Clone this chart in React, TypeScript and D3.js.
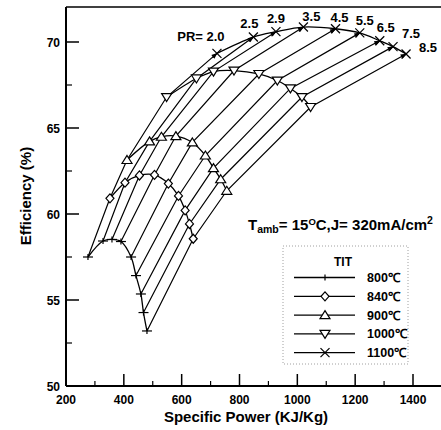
import React from "react";
import * as d3 from "d3";

// Pressure ratio of each constant-PR line (one point per TIT curve)
const prLabels = ["2.0", "2.5", "2.9", "3.5", "4.5", "5.5", "6.5", "7.5", "8.5"];
const titLabels = ["800\u2103", "840\u2103", "900\u2103", "1000\u2103", "1100\u2103"];

// Specific power (KJ/Kg) and efficiency (%) for each turbine inlet temperature
const power800 = [276, 328, 359, 390, 425, 442, 459, 468, 480];
const eff800 = [57.5, 58.43, 58.52, 58.4, 57.5, 56.42, 55.35, 54.27, 53.2];
const power840 = [352, 404, 454, 506, 554, 589, 612, 627, 640];
const eff840 = [60.91, 61.82, 62.24, 62.27, 61.77, 61.05, 60.21, 59.42, 58.56];
const power900 = [411, 489, 530, 580, 637, 682, 710, 735, 756];
const eff900 = [63.14, 64.22, 64.49, 64.53, 64.16, 63.4, 62.67, 62.02, 61.35];
const power1000 = [548, 651, 710, 781, 867, 931, 976, 1016, 1046];
const eff1000 = [66.8, 67.88, 68.28, 68.34, 68.14, 67.76, 67.3, 66.8, 66.22];
const power1100 = [722, 848, 926, 1021, 1132, 1216, 1285, 1331, 1376];
const eff1100 = [69.34, 70.29, 70.6, 70.87, 70.77, 70.53, 70.07, 69.73, 69.3];

const xTicks = [200, 400, 600, 800, 1000, 1200, 1400];
const xMinor = [300, 500, 700, 900, 1100, 1300];
const yTicks = [50, 55, 60, 65, 70];
const yMinor = [52.5, 57.5, 62.5, 67.5];

type Pt = [number, number];
const series: { name: string; marker: string; pts: Pt[] }[] = [
  { name: titLabels[0], marker: "plus", pts: power800.map((p, i) => [p, eff800[i]]) },
  { name: titLabels[1], marker: "diamond", pts: power840.map((p, i) => [p, eff840[i]]) },
  { name: titLabels[2], marker: "tri-up", pts: power900.map((p, i) => [p, eff900[i]]) },
  { name: titLabels[3], marker: "tri-down", pts: power1000.map((p, i) => [p, eff1000[i]]) },
  { name: titLabels[4], marker: "cross", pts: power1100.map((p, i) => [p, eff1100[i]]) },
];

// label placement of PR values relative to the 1100℃ points
const prLabelOffset: Pt[] = [
  [-16, -12], [-4, -9], [0, -9], [8, -6], [4, -7], [5, -8], [6, -9], [18, -9], [22, -2],
];

const FONT = "'Liberation Sans', Arial, Helvetica, sans-serif";

function Marker({ kind, x, y }: { kind: string; x: number; y: number }) {
  const s = { stroke: "#000", strokeWidth: 1.2, fill: "#fff" };
  switch (kind) {
    case "plus":
      return (
        <g stroke="#000" strokeWidth={1.2}>
          <line x1={x - 5} x2={x + 5} y1={y} y2={y} />
          <line x1={x} x2={x} y1={y - 3} y2={y + 3} />
        </g>
      );
    case "diamond":
      return <path d={`M${x},${y - 4.5}L${x + 4},${y}L${x},${y + 4.5}L${x - 4},${y}Z`} {...s} />;
    case "tri-up":
      return <path d={`M${x},${y - 4.5}L${x + 5},${y + 3.5}L${x - 5},${y + 3.5}Z`} {...s} />;
    case "tri-down":
      return <path d={`M${x},${y + 4.5}L${x + 5},${y - 3.5}L${x - 5},${y - 3.5}Z`} {...s} />;
    default:
      return (
        <g stroke="#000" strokeWidth={1.2}>
          <line x1={x - 4.5} x2={x + 4.5} y1={y - 4.5} y2={y + 4.5} />
          <line x1={x - 4.5} x2={x + 4.5} y1={y + 4.5} y2={y - 4.5} />
        </g>
      );
  }
}

export default function App() {
  const x = d3.scaleLinear().domain([200, 1400]).range([66, 413]);
  const y = d3.scaleLinear().domain([50, 70]).range([386, 42]);
  const left = 66;
  const bottom = y(50);
  const top = y(72.03);
  const right = 441;

  const curve = d3
    .line<Pt>()
    .x((d) => x(d[0]))
    .y((d) => y(d[1]))
    .curve(d3.curveCatmullRom.alpha(0.5));
  const straight = d3
    .line<Pt>()
    .x((d) => x(d[0]))
    .y((d) => y(d[1]));

  const prLines: Pt[][] = prLabels.map((_, i) => series.map((s) => s.pts[i]));

  const legendX = 283;
  const legendY = 246;
  const rowY = (i: number) => 277.5 + i * 18.8;

  return (
    <svg
      width={441}
      height={430}
      style={{ position: "absolute", left: 0, top: 0, background: "#fff" }}
      fontFamily={FONT}
      fontWeight="bold"
    >
      <defs>
        <marker
          id="prArrow"
          viewBox="0 0 10 10"
          refX={9}
          refY={5}
          markerWidth={7}
          markerHeight={6}
          markerUnits="userSpaceOnUse"
          orient="auto"
        >
          <path d="M0,1 L10,5 L0,9 Z" fill="#000" />
        </marker>
      </defs>

      {/* constant PR lines */}
      {prLines.map((pts, i) => (
        <path
          key={"pr" + i}
          d={straight(pts) || ""}
          fill="none"
          stroke="#000"
          strokeWidth={1.2}
          markerEnd="url(#prArrow)"
        />
      ))}

      {/* TIT curves */}
      {series.map((s) => (
        <path key={s.name} d={curve(s.pts) || ""} fill="none" stroke="#000" strokeWidth={1.3} />
      ))}
      {series.map((s) =>
        s.pts.map((p, i) => <Marker key={s.name + i} kind={s.marker} x={x(p[0])} y={y(p[1])} />)
      )}

      {/* PR labels */}
      {prLabels.map((lab, i) => {
        const p = series[4].pts[i];
        const [dx, dy] = prLabelOffset[i];
        return (
          <text
            key={"lab" + i}
            x={x(p[0]) + dx}
            y={y(p[1]) + dy}
            fontSize={13}
            textAnchor="middle"
          >
            {i === 0 ? "PR= " + lab : lab}
          </text>
        );
      })}

      {/* frame and axes */}
      <line x1={left} x2={right} y1={top} y2={top} stroke="#000" strokeWidth={1.5} />
      <line x1={left} x2={right} y1={bottom} y2={bottom} stroke="#000" strokeWidth={2} />
      <line x1={left} x2={left} y1={top} y2={bottom} stroke="#000" strokeWidth={2} />

      {xTicks.map((t) => (
        <g key={"xt" + t}>
          {t > 200 && <line x1={x(t)} x2={x(t)} y1={bottom} y2={bottom - 12} stroke="#000" strokeWidth={1.5} />}
          <text x={x(t)} y={bottom + 18} fontSize={12} textAnchor="middle">
            {t}
          </text>
        </g>
      ))}
      {xMinor.map((t) => (
        <line key={"xm" + t} x1={x(t)} x2={x(t)} y1={bottom} y2={bottom - 5} stroke="#000" strokeWidth={1.2} />
      ))}
      {yTicks.map((t) => (
        <g key={"yt" + t}>
          {t > 50 && <line x1={left} x2={left + 13} y1={y(t)} y2={y(t)} stroke="#000" strokeWidth={1.5} />}
          <text x={left - 6} y={y(t) + 4.5} fontSize={12} textAnchor="end">
            {t}
          </text>
        </g>
      ))}
      {yMinor.map((t) => (
        <line key={"ym" + t} x1={left} x2={left + 6} y1={y(t)} y2={y(t)} stroke="#000" strokeWidth={1.2} />
      ))}

      <text x={246} y={422} fontSize={15} textAnchor="middle">
        Specific Power (KJ/Kg)
      </text>
      <text transform="translate(31,196) rotate(-90)" fontSize={15} textAnchor="middle">
        Efficiency (%)
      </text>

      {/* operating conditions */}
      <text x={248} y={230} fontSize={15}>
        T
        <tspan fontSize={10.5} dy={3}>amb</tspan>
        <tspan dy={-3}>= 15</tspan>
        <tspan fontSize={9.5} dy={-5}>O</tspan>
        <tspan dy={5}>C,J= 320mA/cm</tspan>
        <tspan fontSize={10.5} dy={-6}>2</tspan>
      </text>

      {/* legend */}
      <rect
        x={legendX}
        y={legendY}
        width={125}
        height={118}
        fill="none"
        stroke="#888"
        strokeWidth={0.8}
        strokeDasharray="1 2"
      />
      <text x={343} y={266} fontSize={12} textAnchor="middle">
        TIT
      </text>
      {series.map((s, i) => (
        <g key={"lg" + i}>
          <line x1={294} x2={355} y1={rowY(i)} y2={rowY(i)} stroke="#000" strokeWidth={1.3} />
          {s.marker === "plus" ? (
            <line x1={325} x2={325} y1={rowY(i) - 3} y2={rowY(i) + 3} stroke="#000" strokeWidth={1.2} />
          ) : (
            <Marker kind={s.marker} x={325} y={rowY(i)} />
          )}
          <text x={367} y={rowY(i) + 4.5} fontSize={12.5}>
            {s.name}
          </text>
        </g>
      ))}
    </svg>
  );
}
